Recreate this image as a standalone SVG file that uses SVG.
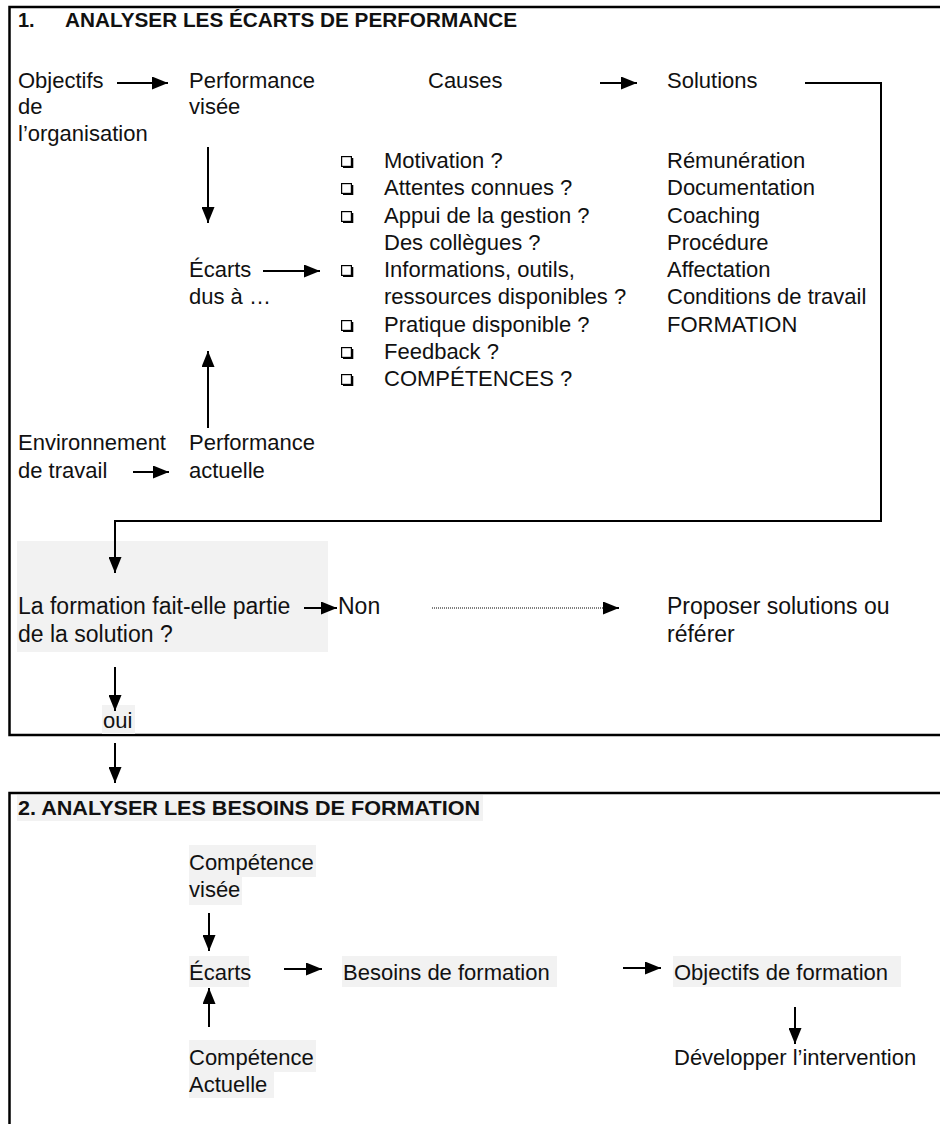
<svg xmlns="http://www.w3.org/2000/svg" width="940" height="1124" viewBox="0 0 940 1124">
<style>
.t{font-family:"Liberation Sans",Arial,sans-serif;font-size:22px;fill:#111}
.q{font-family:"Liberation Sans",Arial,sans-serif;font-size:23px;fill:#111}
.h{font-family:"Liberation Sans",Arial,sans-serif;font-size:20px;font-weight:bold;fill:#111}
.frame{fill:none;stroke:#000;stroke-width:2.5}
.c{fill:none;stroke:#000;stroke-width:2}
.d{fill:none;stroke:#000;stroke-width:1;stroke-dasharray:1 1}
.bg{fill:#f2f2f2}
</style>
<defs>
<marker id="ah" viewBox="0 0 16 13" refX="16" refY="6.5" markerWidth="16" markerHeight="13" markerUnits="userSpaceOnUse" orient="auto"><path d="M0,0 L16,6.5 L0,13 z" fill="#000"/></marker>
<g id="cb"><rect x="0.6" y="0.6" width="9.8" height="9.8" fill="none" stroke="#000" stroke-width="1.2"/><path d="M2,11 H11.2 V2" stroke="#000" stroke-width="2.2" fill="none"/></g>
</defs>
<rect width="940" height="1124" fill="#fff"/>

<g id="frames">
<path class="frame" d="M942,7 H9.5 V735 H942"/>
<path class="frame" d="M942,793 H9.5 V1126"/>
</g>

<g id="backgrounds">
<rect class="bg" x="17" y="541" width="311" height="111"/>
<rect class="bg" x="102" y="705" width="33" height="29"/>
<rect class="bg" x="17" y="795" width="466" height="26"/>
<rect class="bg" x="189" y="845" width="127" height="32"/>
<rect class="bg" x="189" y="877" width="53" height="28"/>
<rect class="bg" x="189" y="956" width="60" height="31"/>
<rect class="bg" x="342" y="956" width="215" height="31"/>
<rect class="bg" x="673" y="956" width="228" height="31"/>
<rect class="bg" x="189" y="1040" width="127" height="32"/>
<rect class="bg" x="189" y="1072" width="85" height="26"/>
</g>

<g id="connectors">
<line class="c" x1="117" y1="83" x2="168" y2="83" marker-end="url(#ah)"/>
<line class="c" x1="600" y1="83" x2="637" y2="83" marker-end="url(#ah)"/>
<path class="c" d="M805,83 H881 V521 H115 V573" marker-end="url(#ah)"/>
<line class="c" x1="208" y1="147" x2="208" y2="223" marker-end="url(#ah)"/>
<line class="c" x1="208" y1="428" x2="208" y2="351" marker-end="url(#ah)"/>
<line class="c" x1="263" y1="271" x2="320" y2="271" marker-end="url(#ah)"/>
<line class="c" x1="133" y1="472" x2="169" y2="472" marker-end="url(#ah)"/>
<line class="c" x1="304" y1="608" x2="337" y2="608" marker-end="url(#ah)"/>
<line class="d" x1="432" y1="608" x2="604" y2="608"/>
<line class="c" x1="603" y1="608" x2="619" y2="608" stroke-width="0.1" marker-end="url(#ah)"/>
<line class="c" x1="115" y1="667" x2="115" y2="711" marker-end="url(#ah)"/>
<line class="c" x1="115" y1="743" x2="115" y2="783" marker-end="url(#ah)"/>
<line class="c" x1="209" y1="913" x2="209" y2="951" marker-end="url(#ah)"/>
<line class="c" x1="209" y1="1027" x2="209" y2="988" marker-end="url(#ah)"/>
<line class="c" x1="284" y1="969" x2="322" y2="969" marker-end="url(#ah)"/>
<line class="c" x1="623" y1="968" x2="661" y2="968" marker-end="url(#ah)"/>
<line class="c" x1="795" y1="1007" x2="795" y2="1044" marker-end="url(#ah)"/>
</g>

<g id="header1"><text class="h" x="18" y="27">1.</text><text class="h" x="65" y="27" textLength="452" lengthAdjust="spacingAndGlyphs">ANALYSER LES ÉCARTS DE PERFORMANCE</text></g>

<g id="objectifs"><text class="t" x="18" y="88">Objectifs</text><text class="t" x="18" y="114">de</text><text class="t" x="18" y="141">l’organisation</text></g>
<g id="perf-visee"><text class="t" x="189" y="88">Performance</text><text class="t" x="189" y="114">visée</text></g>
<g id="causes"><text class="t" x="428" y="88">Causes</text></g>
<g id="solutions"><text class="t" x="667" y="88">Solutions</text></g>

<g id="causes-list">
<use href="#cb" x="341" y="156"/><text class="t" x="384" y="168">Motivation ?</text>
<use href="#cb" x="341" y="183"/><text class="t" x="384" y="195">Attentes connues ?</text>
<use href="#cb" x="341" y="211"/><text class="t" x="384" y="223">Appui de la gestion ?</text>
<text class="t" x="384" y="250">Des collègues ?</text>
<use href="#cb" x="341" y="265"/><text class="t" x="384" y="277">Informations, outils,</text>
<text class="t" x="384" y="304">ressources disponibles ?</text>
<use href="#cb" x="341" y="320"/><text class="t" x="384" y="332">Pratique disponible ?</text>
<use href="#cb" x="341" y="347"/><text class="t" x="384" y="359">Feedback ?</text>
<use href="#cb" x="341" y="374"/><text class="t" x="384" y="386">COMPÉTENCES ?</text>
</g>

<g id="solutions-list">
<text class="t" x="667" y="168">Rémunération</text>
<text class="t" x="667" y="195">Documentation</text>
<text class="t" x="667" y="223">Coaching</text>
<text class="t" x="667" y="250">Procédure</text>
<text class="t" x="667" y="277">Affectation</text>
<text class="t" x="667" y="304">Conditions de travail</text>
<text class="t" x="667" y="332">FORMATION</text>
</g>

<g id="ecarts1"><text class="t" x="189" y="277">Écarts</text><text class="t" x="189" y="304">dus à …</text></g>
<g id="environnement"><text class="t" x="18" y="450">Environnement</text><text class="t" x="18" y="478">de travail</text></g>
<g id="perf-actuelle"><text class="t" x="189" y="450">Performance</text><text class="t" x="189" y="478">actuelle</text></g>

<g id="question"><text class="q" x="18" y="614">La formation fait-elle partie</text><text class="q" x="18" y="642">de la solution ?</text></g>
<g id="non"><text class="q" x="338" y="614">Non</text></g>
<g id="proposer"><text class="q" x="667" y="614">Proposer solutions ou</text><text class="q" x="667" y="642">référer</text></g>
<g id="oui"><text class="t" x="103" y="728">oui</text></g>

<g id="header2"><text class="h" x="18" y="815" textLength="462" lengthAdjust="spacingAndGlyphs">2. ANALYSER LES BESOINS DE FORMATION</text></g>
<g id="comp-visee"><text class="t" x="189" y="870">Compétence</text><text class="t" x="189" y="897">visée</text></g>
<g id="ecarts2"><text class="t" x="189" y="980">Écarts</text></g>
<g id="besoins"><text class="t" x="343" y="980">Besoins de formation</text></g>
<g id="obj-formation"><text class="t" x="674" y="980">Objectifs de formation</text></g>
<g id="developper"><text class="t" x="674" y="1065">Développer l’intervention</text></g>
<g id="comp-actuelle"><text class="t" x="189" y="1065">Compétence</text><text class="t" x="189" y="1092">Actuelle</text></g>
</svg>
